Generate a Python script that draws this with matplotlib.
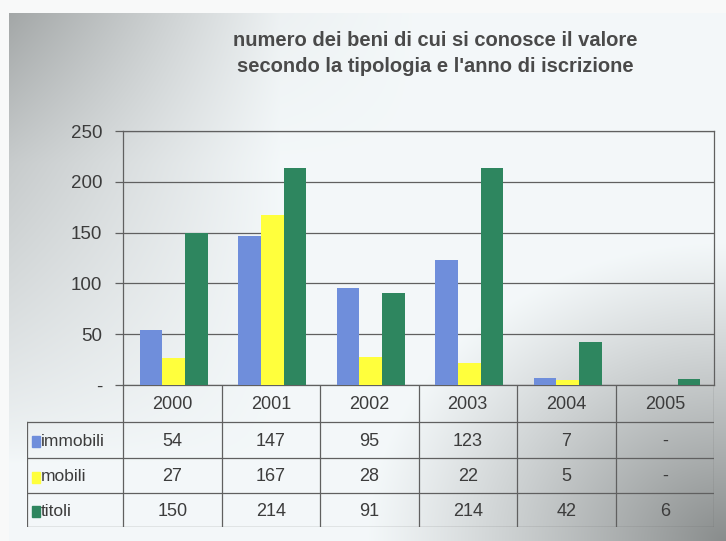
import numpy as np
import matplotlib.pyplot as plt
from matplotlib.patches import Rectangle

plt.rcParams['font.family'] = ['Liberation Sans', 'DejaVu Sans']

anni = ['2000', '2001', '2002', '2003', '2004', '2005']
serie = ['immobili', 'mobili', 'titoli']
immobili = [54, 147, 95, 123, 7, 0]
mobili = [27, 167, 28, 22, 5, 0]
titoli = [150, 214, 91, 214, 42, 6]
valori = [immobili, mobili, titoli]
colori = ['#6f8edb', '#ffff3c', '#2e865f']
yticks = [0, 50, 100, 150, 200, 250]

W, H = 726, 541
testo = '#3c3c3c'
linea = '#606060'

fig = plt.figure(figsize=(W / 100, H / 100), dpi=100)

# sfondo sfumato grigio
bg = fig.add_axes([0, 0, 1, 1], zorder=-10)
yy, xx = np.mgrid[0:H, 0:W].astype(float)
d_left = 0.26 * np.clip(1 - xx / 280, 0, 1) ** 1.0 * np.clip(1 - (yy - 13) / 450, 0, 1) ** 0.8
d_top = 0.08 * np.clip(1 - xx / 420, 0, 1) * np.clip(1 - (yy - 13) / 150, 0, 1)
r = np.sqrt(((W - xx) / 360) ** 2 + ((H - yy) / 300) ** 2)
d_br = 0.44 * np.clip(1 - r, 0, 1) ** 1.1
dark = np.maximum(d_left + d_top, d_br)
base = np.array([0.955, 0.972, 0.978])
img = base[None, None, :] * (1 - dark[..., None])
img[..., 1] += dark * 0.01
mask = (yy < 13) | (xx < 9)
img[mask] = [0.975, 0.98, 0.98]
bg.imshow(np.clip(img, 0, 1), extent=[0, W, H, 0], aspect='auto')
bg.set_xlim(0, W)
bg.set_ylim(H, 0)
bg.axis('off')

fig.text(435 / W, 1 - 40 / H, 'numero dei beni di cui si conosce il valore',
         ha='center', va='center', fontsize=14.5, fontweight='bold', color='#4a4a4a')
fig.text(435 / W, 1 - 67 / H, "secondo la tipologia e l'anno di iscrizione",
         ha='center', va='center', fontsize=14.5, fontweight='bold', color='#4a4a4a')

# grafico a barre
x0, x1, ytop, ybot = 123, 714, 131, 385
ax = fig.add_axes([x0 / W, 1 - ybot / H, (x1 - x0) / W, (ybot - ytop) / H])
ax.patch.set_alpha(0)
x = np.arange(len(anni))
w = 0.23
for i, (vals, c) in enumerate(zip(valori, colori)):
    ax.bar(x + (i - 1) * w + 0.015, vals, width=w, color=c, zorder=3)
ax.set_xlim(-0.5, len(anni) - 0.5)
ax.set_ylim(0, 250)
ax.set_yticks(yticks)
ax.set_yticklabels(['-' if t == 0 else str(t) for t in yticks])
ax.set_xticks([])
ax.yaxis.grid(True, color=linea, linewidth=0.9, zorder=1)
ax.tick_params(axis='y', length=6, width=0.9, color=linea, labelsize=13.5,
               labelcolor=testo, pad=9)
for s in ax.spines.values():
    s.set_color(linea)
    s.set_linewidth(0.9)

# tabella dati
tx0, tbot = 27, 527
cw = (x1 - x0) / len(anni)
L = (x0 - tx0) / cw
tab = fig.add_axes([tx0 / W, 1 - tbot / H, (x1 - tx0) / W, (tbot - ybot) / H])
tab.set_xlim(-0.5 - L, len(anni) - 0.5)
tab.set_ylim(tbot - ybot, 0)
tab.axis('off')
righe = [0, 37, 73, 108, 142]
for k in range(len(anni) + 1):
    tab.plot([k - 0.5, k - 0.5], [0, righe[-1]], color=linea, lw=0.9)
tab.plot([-0.5 - L, -0.5 - L], [righe[1], righe[-1]], color=linea, lw=0.9)
for yr in righe[1:]:
    tab.plot([-0.5 - L, len(anni) - 0.5], [yr, yr], color=linea, lw=0.9)
for j, a in enumerate(anni):
    tab.text(j, (righe[0] + righe[1]) / 2 + 1, a, ha='center', va='center',
             fontsize=13, color=testo)
for i, (nome, vals, c) in enumerate(zip(serie, valori, colori)):
    yc = (righe[i + 1] + righe[i + 2]) / 2
    tab.add_patch(Rectangle((-0.5 - L + 5 / cw, yc - 4), 8 / cw, 11, color=c))
    tab.text(-0.5 - L + 14 / cw, yc + 1, nome, ha='left', va='center',
             fontsize=12.5, color=testo)
    for j, v in enumerate(vals):
        tab.text(j, yc + 1, '-' if v == 0 else str(v), ha='center', va='center',
                 fontsize=13, color=testo)

plt.savefig('out.png', dpi=100)
plt.close()
